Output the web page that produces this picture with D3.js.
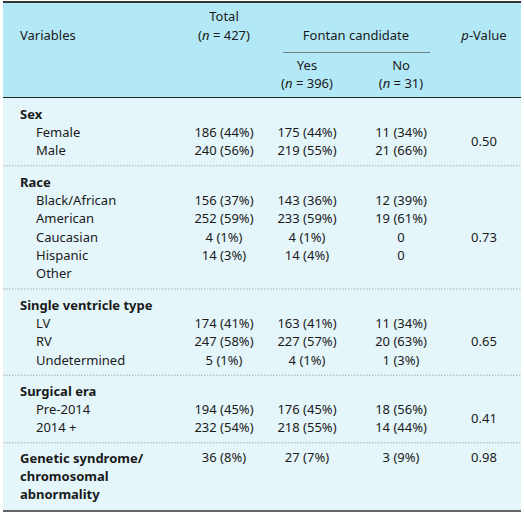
<!DOCTYPE html><html><head><meta charset="utf-8">
<script src="https://cdn.jsdelivr.net/npm/d3@7"></script>
<style>body{margin:0;background:#fff}text{font-family:"Noto Sans",sans-serif;font-size:13px;fill:#1a1a1a}</style></head><body>
<svg id="c" width="524" height="515"></svg>
<script>
const groups = ["Sex","Race","Single ventricle type","Surgical era","Genetic syndrome/"];
const rowLabels = [
 ["Female","Male"],
 ["Black/African","American","Caucasian","Hispanic","Other"],
 ["LV","RV","Undetermined"],
 ["Pre-2014","2014 +"],
 ["chromosomal","abnormality"]];
const totalVals = [["186 (44%)","240 (56%)"],["156 (37%)","252 (59%)","4 (1%)","14 (3%)",""],["174 (41%)","247 (58%)","5 (1%)"],["194 (45%)","232 (54%)"],["36 (8%)"]];
const yesVals = [["175 (44%)","219 (55%)"],["143 (36%)","233 (59%)","4 (1%)","14 (4%)",""],["163 (41%)","227 (57%)","4 (1%)"],["176 (45%)","218 (55%)"],["27 (7%)"]];
const noVals = [["11 (34%)","21 (66%)"],["12 (39%)","19 (61%)","0","0",""],["11 (34%)","20 (63%)","1 (3%)"],["18 (56%)","14 (44%)"],["3 (9%)"]];
const pVals = ["0.50","0.73","0.65","0.41","0.98"];
const svg=d3.select("#c");
const L=3,R=521;
svg.append("rect").attr("x",L).attr("y",2).attr("width",R-L).attr("height",96).attr("fill","#b3e9f6");
svg.append("rect").attr("x",L).attr("y",98).attr("width",R-L).attr("height",413).attr("fill","#e5f6fb");
svg.append("line").attr("x1",L).attr("x2",R).attr("y1",2).attr("y2",2).attr("stroke","#333").attr("stroke-width",2);
svg.append("line").attr("x1",L).attr("x2",R).attr("y1",97.5).attr("y2",97.5).attr("stroke","#222").attr("stroke-width",1.2);
svg.append("line").attr("x1",L).attr("x2",R).attr("y1",511).attr("y2",511).attr("stroke","#333").attr("stroke-width",1.5);
svg.append("line").attr("x1",283).attr("x2",430).attr("y1",52.5).attr("y2",52.5).attr("stroke","#666").attr("stroke-width",0.8);
const cx={t:224,y:307,n:401,p:484};
function T(x,y,s,a,opts){const t=svg.append("text").attr("x",x).attr("y",y).attr("text-anchor",a||"start").attr("dominant-baseline","middle");
 if(opts&&opts.bold)t.attr("font-weight","bold");
 if(Array.isArray(s)){s.forEach(p=>{const ts=t.append("tspan").text(p[0]);if(p[1])ts.attr("font-style","italic");});}else t.text(s);return t;}
T(20,37,"Variables");
T(cx.t,18,"Total","middle");
T(cx.t,37,[["("],["n",1],[" = 427)"]],"middle");
T(356,37,"Fontan candidate","middle");
T(cx.p,37,[["p",1],["-Value"]],"middle");
T(cx.y,67,"Yes","middle");T(cx.n,67,"No","middle");
T(cx.y,85,[["("],["n",1],[" = 396)"]],"middle");
T(cx.n,85,[["("],["n",1],[" = 31)"]],"middle");
const starts=[115,183,306,392,459];
const step=18.4;
starts.forEach((y0,g)=>{
 T(20,y0,groups[g],"start",{bold:true});
 const n=rowLabels[g].length;
 const isGen=g===4;
 rowLabels[g].forEach((lab,i)=>{
  const y=y0+step*(i+1);
  if(isGen)T(20,y,lab,"start",{bold:true});else T(36,y,lab);
 });
 totalVals[g].forEach((v,i)=>{
  const y=isGen?y0:y0+step*(i+1);
  T(cx.t,y,v,"middle");T(cx.y,y,yesVals[g][i],"middle");T(cx.n,y,noVals[g][i],"middle");
 });
 const py=isGen?y0:y0+step*(n+1)/2;
 T(cx.p,py,pVals[g],"middle");
 if(g<4){const ly=y0+step*n+14;
  svg.append("line").attr("x1",L).attr("x2",R).attr("y1",ly).attr("y2",ly).attr("stroke","#999").attr("stroke-width",0.8).attr("stroke-dasharray","1.5,1.5");}
});
</script></body></html>
